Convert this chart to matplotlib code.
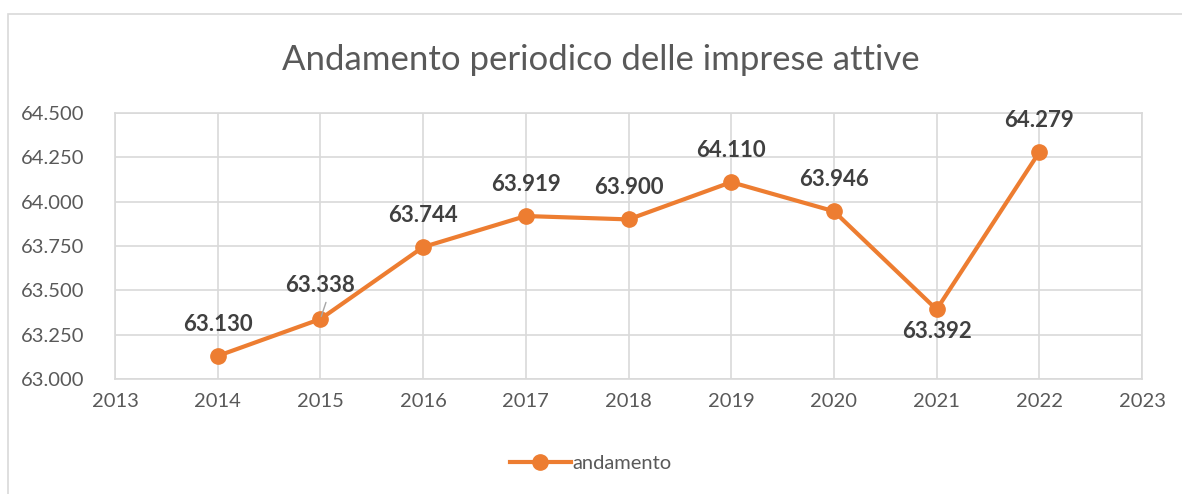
import matplotlib.pyplot as plt
from matplotlib.patches import Rectangle
from matplotlib.ticker import FuncFormatter

anni = [2014, 2015, 2016, 2017, 2018, 2019, 2020, 2021, 2022]
imprese = [63.130, 63.338, 63.744, 63.919, 63.900, 64.110, 63.946, 63.392, 64.279]
etichette = ["63.130", "63.338", "63.744", "63.919", "63.900", "64.110", "63.946", "63.392", "64.279"]

plt.rcParams['font.family'] = ['Lato', 'DejaVu Sans']
arancio = '#ed7d31'
grigio = '#595959'

fig = plt.figure(figsize=(11.82, 4.94), dpi=100)
# cornice del grafico
fig.patches.append(Rectangle((8 / 1182, -0.1), 1.2, 1 - 14 / 494 + 0.1, transform=fig.transFigure,
                             fill=False, edgecolor='#d9d9d9', linewidth=1.2))

ax = fig.add_axes([115 / 1182, 1 - 379 / 494, (1142 - 115) / 1182, (379 - 113) / 494])
ax.plot(anni, imprese, color=arancio, linewidth=3, marker='o', markersize=11, label='andamento')

ax.set_xlim(2013, 2023)
ax.set_ylim(63.0, 64.5)
ax.set_xticks(range(2013, 2024))
ax.set_yticks([63.0, 63.25, 63.5, 63.75, 64.0, 64.25, 64.5])
ax.yaxis.set_major_formatter(FuncFormatter(lambda v, p: f"{v:.3f}"))
ax.grid(True, color='#d9d9d9', linewidth=1.2)
ax.set_axisbelow(True)
for s in ax.spines.values():
    s.set_color('#d9d9d9')
    s.set_linewidth(1.2)
ax.tick_params(length=0, labelsize=14.5, colors=grigio, pad=10)
ax.tick_params(axis='y', pad=22)

for x, y, t in zip(anni, imprese, etichette):
    if x == 2021:
        off = (0, -16)
    elif x == 2015:
        off = (0, 24.5)
        # linea guida dell'etichetta
        ax.annotate('', xy=(x, y), xytext=(4, 12), textcoords='offset points',
                    arrowprops=dict(arrowstyle='-', color='#a6a6a6', lw=1, shrinkA=0, shrinkB=2))
    else:
        off = (0, 23)
    ax.annotate(t, (x, y), xytext=off, textcoords='offset points', ha='center', va='center',
                fontsize=16, fontweight='bold', color='#404040')

fig.text(601 / 1182, 1 - 60 / 494, 'Andamento periodico delle imprese attive', ha='center', va='center',
         fontsize=25, color=grigio)
fig.legend(loc='center', bbox_to_anchor=(0.5, 1 - 463 / 494), frameon=False, fontsize=14.5,
           labelcolor=grigio, handlelength=3, handletextpad=0.1)

fig.savefig('out.png', dpi=100)
